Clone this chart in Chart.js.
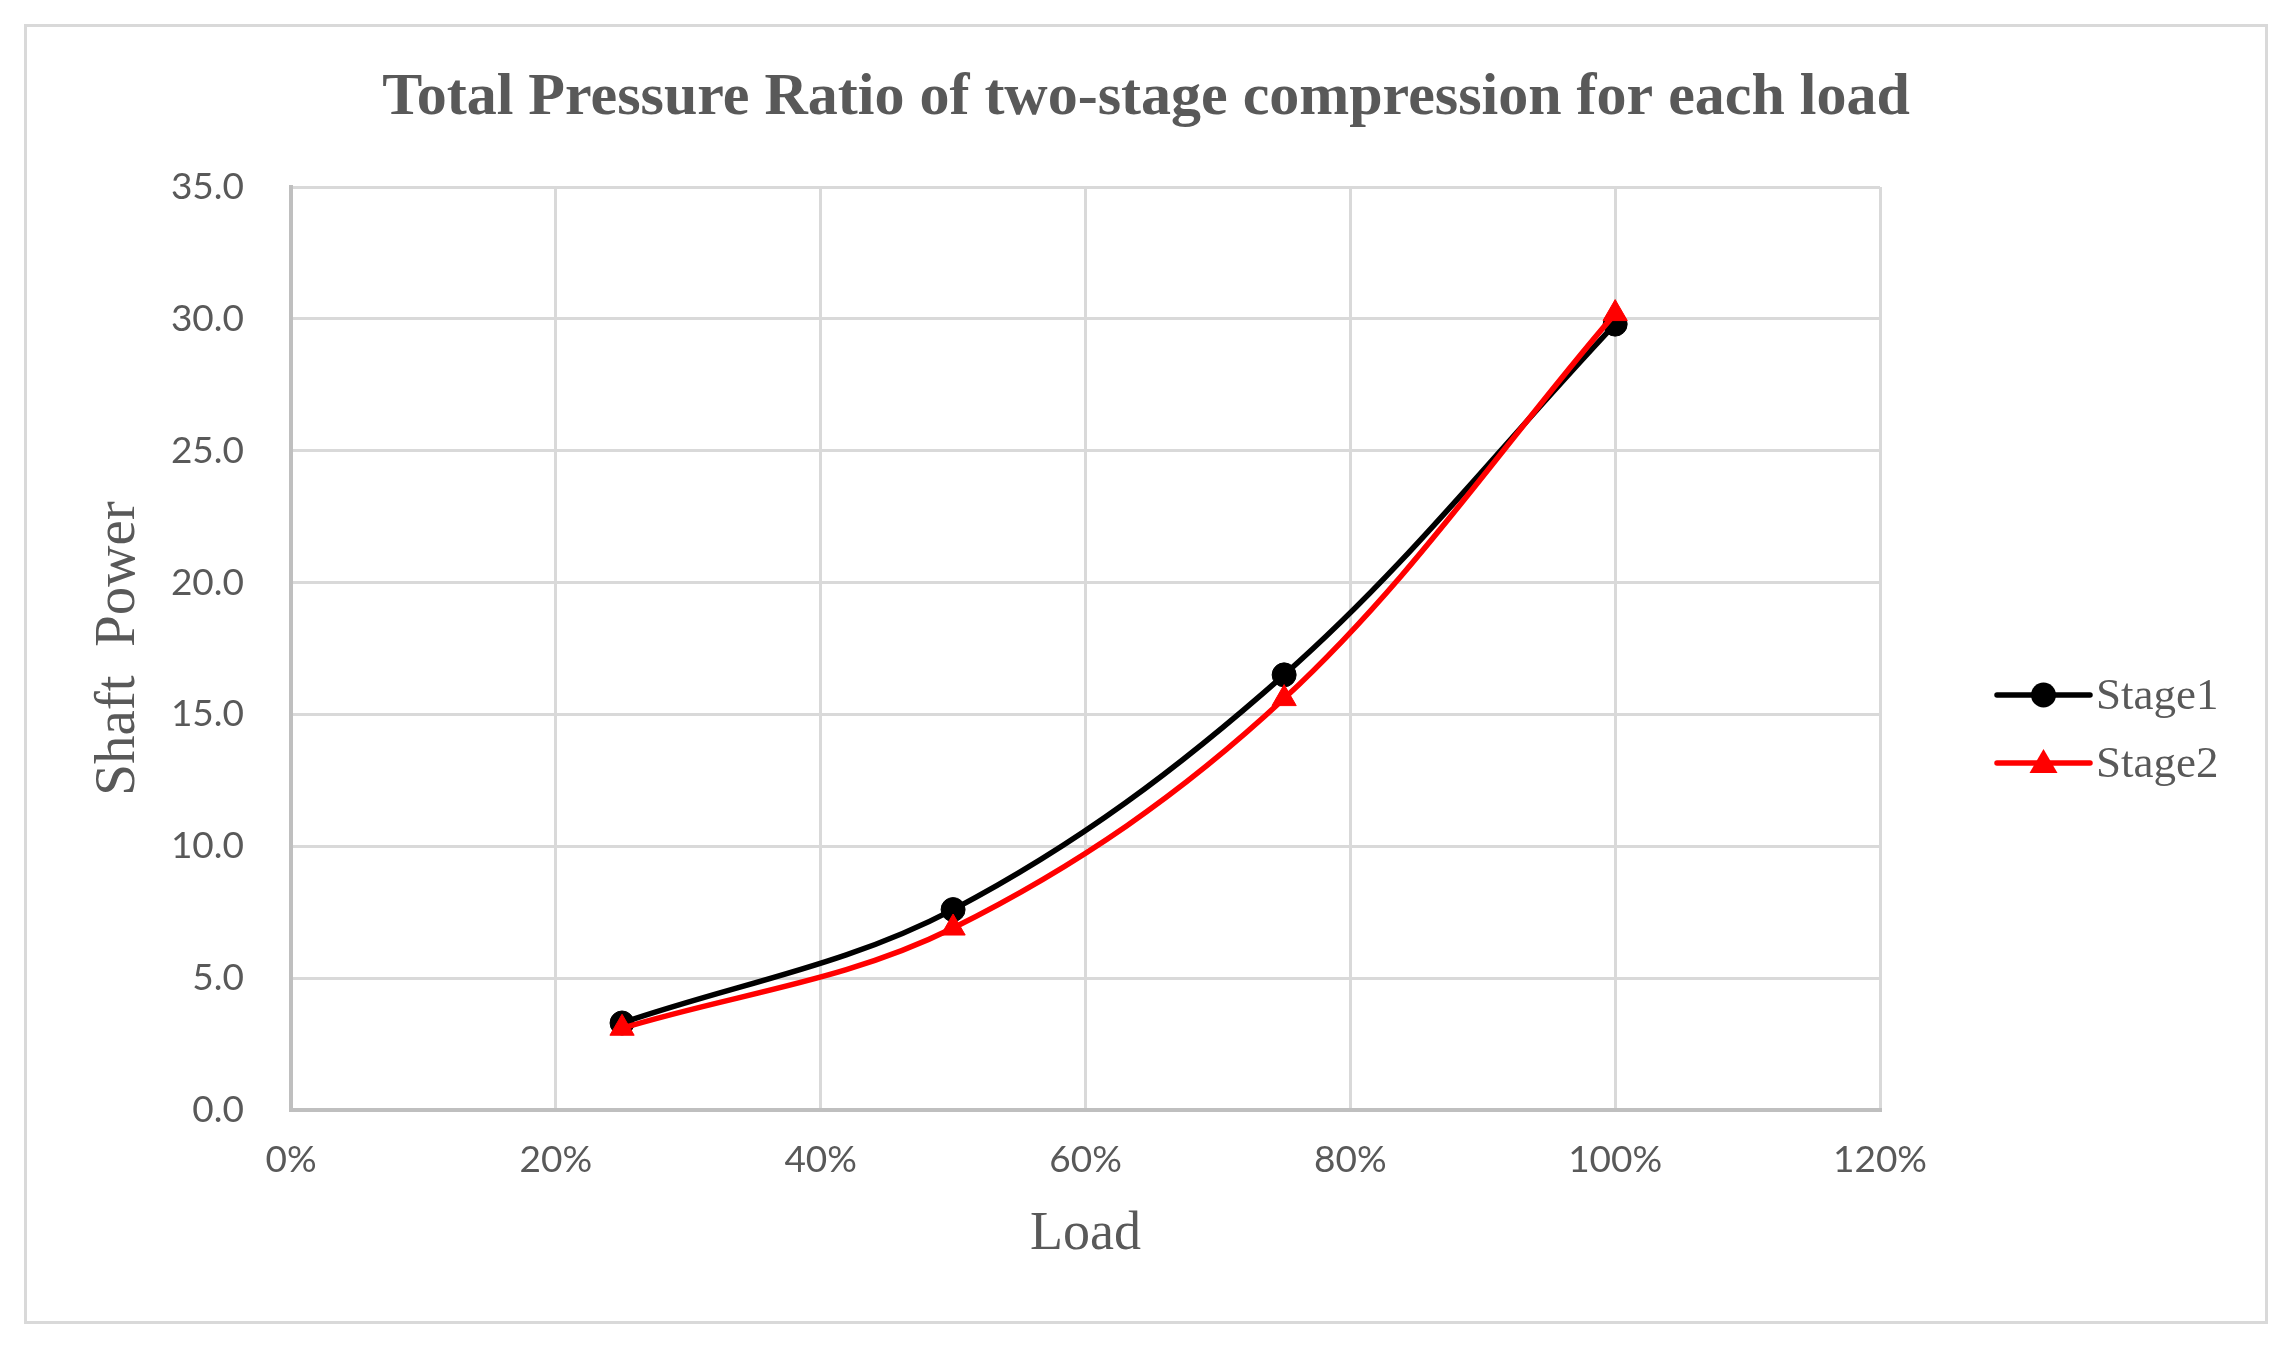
<!DOCTYPE html>
<html>
<head>
<meta charset="utf-8">
<script src="https://cdn.jsdelivr.net/npm/chart.js@4.4.1/dist/chart.umd.min.js"></script>
<style>
  html, body { margin: 0; padding: 0; background: #fff; }
  #frame {
    position: absolute; left: 24px; top: 24px;
    width: 2244px; height: 1300px;
    border: 3px solid #d9d9d9; box-sizing: border-box;
  }
</style>
</head>
<body>
<div id="frame"><canvas id="pressureChart"></canvas></div>
<script>
const loads = [0.25, 0.5, 0.75, 1.0];
const stage1 = [3.3, 7.6, 16.5, 29.8];
const stage2 = [3.1, 6.9, 15.6, 30.2];
const seriesNames = ['Stage1', 'Stage2'];
const xTickLabels = ['0%', '20%', '40%', '60%', '80%', '100%', '120%'];
const yTickLabels = ['0.0', '5.0', '10.0', '15.0', '20.0', '25.0', '30.0', '35.0'];

const GREY_TEXT = '#595959';
const SERIF = '"Liberation Serif", "Times New Roman", "DejaVu Serif", serif';
const SANS = 'Lato, "Open Sans", "Noto Sans", sans-serif';

// legend like Excel: line with the marker in the middle
const legendLines = {
  id: 'legendLines',
  afterDraw(chart) {
    const ctx = chart.ctx;
    const x0 = 1970, x1 = 2063, rowY = [668, 736];
    chart.data.datasets.forEach((ds, i) => {
      const y = rowY[i];
      const cx = (x0 + x1) / 2;
      ctx.save();
      ctx.strokeStyle = ds.borderColor;
      ctx.fillStyle = ds.borderColor;
      ctx.lineWidth = 5.5;
      ctx.lineCap = 'round';
      ctx.beginPath();
      ctx.moveTo(x0, y);
      ctx.lineTo(x1, y);
      ctx.stroke();
      ctx.beginPath();
      if (ds.pointStyle === 'triangle') {
        ctx.moveTo(cx, y - 14);
        ctx.lineTo(cx + 14, y + 10);
        ctx.lineTo(cx - 14, y + 10);
        ctx.closePath();
      } else {
        ctx.arc(cx, y, 12.5, 0, Math.PI * 2);
      }
      ctx.fill();
      ctx.fillStyle = GREY_TEXT;
      ctx.font = '45px ' + SERIF;
      ctx.textBaseline = 'middle';
      ctx.textAlign = 'left';
      ctx.fillText(ds.label, x1 + 6, y + 2);
      ctx.restore();
    });
  }
};

new Chart(document.getElementById('pressureChart'), {
  type: 'line',
  data: {
    datasets: [
      {
        label: seriesNames[0],
        data: loads.map((x, i) => ({ x, y: stage1[i] })),
        borderColor: '#000000',
        backgroundColor: '#000000',
        borderWidth: 5.5,
        pointStyle: 'circle',
        pointRadius: 12,
        pointBorderWidth: 1,
        tension: 0.35,
        order: 1
      },
      {
        label: seriesNames[1],
        data: loads.map((x, i) => ({ x, y: stage2[i] })),
        borderColor: '#ff0000',
        backgroundColor: '#ff0000',
        borderWidth: 5.5,
        pointStyle: 'triangle',
        pointRadius: 14,
        pointBorderWidth: 1,
        tension: 0.35,
        order: 0
      }
    ]
  },
  options: {
    responsive: true,
    maintainAspectRatio: false,
    animation: false,
    devicePixelRatio: 1,
    layout: { padding: 0 },
    plugins: {
      legend: { display: false },
      tooltip: { enabled: false },
      title: {
        display: true,
        text: 'Total Pressure Ratio of two-stage compression for each load',
        color: GREY_TEXT,
        font: { family: SERIF, size: 60, weight: 'bold' },
        padding: { top: 35, bottom: 53 }
      }
    },
    scales: {
      x: {
        type: 'linear',
        min: 0,
        max: 1.2,
        ticks: {
          stepSize: 0.2,
          color: GREY_TEXT,
          font: { family: SANS, size: 37 },
          padding: 28,
          maxRotation: 0,
          callback: (v, i) => xTickLabels[i]
        },
        grid: { color: '#d9d9d9', lineWidth: 3, drawTicks: false },
        border: { color: '#bfbfbf', width: 4 },
        title: {
          display: true,
          text: 'Load',
          color: GREY_TEXT,
          font: { family: SERIF, size: 54 },
          padding: { top: 0, bottom: 54 }
        },
        afterFit: (scale) => { scale.height = 211; }
      },
      y: {
        min: 0,
        max: 35,
        ticks: {
          stepSize: 5,
          color: GREY_TEXT,
          font: { family: SANS, size: 37 },
          padding: 47,
          callback: (v, i) => yTickLabels[i]
        },
        grid: { color: '#d9d9d9', lineWidth: 3, drawTicks: false },
        border: { color: '#bfbfbf', width: 4 },
        title: {
          display: true,
          text: 'Shaft  Power',
          color: GREY_TEXT,
          font: { family: SERIF, size: 57 },
          padding: { top: 58, bottom: 0 }
        },
        afterFit: (scale) => { scale.width = 264; }
      },
      // empty right-hand box that keeps room for the legend
      legendSpace: {
        type: 'linear',
        position: 'right',
        grid: { display: false },
        border: { display: false },
        ticks: { display: false },
        afterFit: (scale) => { scale.width = 385; }
      }
    }
  },
  plugins: [legendLines]
});
</script>
</body>
</html>
